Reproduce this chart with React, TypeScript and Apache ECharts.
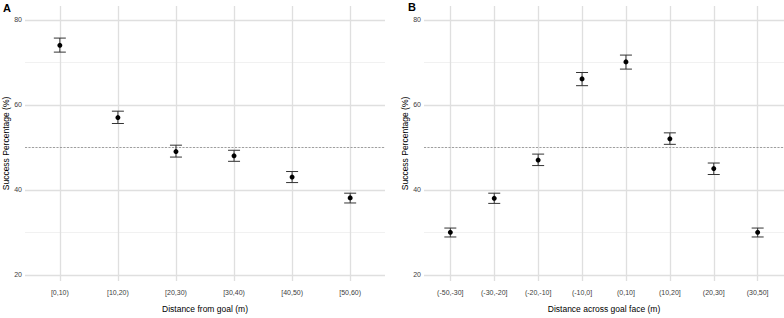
import React, { useEffect, useRef } from "react";
import * as echarts from "echarts";

const catsA = ["[0,10)", "[10,20)", "[20,30)", "[30,40)", "[40,50)", "[50,60)"];
const meanA = [74.0, 57.0, 49.0, 48.0, 43.0, 38.1];
const lowA = [72.4, 55.6, 47.7, 46.7, 41.7, 36.9];
const highA = [75.7, 58.5, 50.5, 49.3, 44.3, 39.2];

const catsB = ["(-50,-30]", "(-30,-20]", "(-20,-10]", "(-10,0]", "(0,10]", "(10,20]", "(20,30]", "(30,50]"];
const meanB = [30.0, 38.0, 47.0, 66.1, 70.1, 52.0, 45.0, 30.0];
const lowB = [28.9, 36.8, 45.7, 64.5, 68.4, 50.7, 43.6, 28.9];
const highB = [31.0, 39.2, 48.4, 67.6, 71.7, 53.4, 46.3, 31.0];

const yMajor = [20, 40, 60, 80];
const yMinor = [30, 50, 70];
const refLine = 50;

const FONT = "Liberation Sans, Arial, Helvetica, sans-serif";

function buildPanel(idx: number, cats: string[], mean: number[], low: number[], high: number[], xName: string) {
  const n = cats.length;
  const xAxis = {
    type: "value",
    gridIndex: idx,
    min: -0.6,
    max: n - 1 + 0.6,
    axisLine: { show: false },
    axisTick: { show: false },
    splitLine: { show: false },
    axisLabel: {
      customValues: cats.map((_, i) => i),
      formatter: (v: number) => cats[Math.round(v)] ?? "",
      fontSize: 7,
      color: "#3d3d3d",
      fontFamily: FONT,
      margin: 8,
    },
    name: xName,
    nameLocation: "middle",
    nameGap: 23,
    nameTextStyle: { fontSize: 8.5, color: "#000", fontFamily: FONT },
  };
  const yAxis = {
    type: "value",
    gridIndex: idx,
    min: 18.54,
    max: 83.25,
    axisLine: { show: false },
    axisTick: { show: false },
    splitLine: { show: false },
    axisLabel: {
      customValues: yMajor,
      fontSize: 7,
      color: "#3d3d3d",
      fontFamily: FONT,
      margin: 3,
    },
    name: "Success Percentage (%)",
    nameLocation: "middle",
    nameGap: 14,
    nameTextStyle: { fontSize: 8.5, color: "#000", fontFamily: FONT },
  };
  const gridLines = {
    type: "line",
    xAxisIndex: idx,
    yAxisIndex: idx,
    data: [],
    z: 0,
    silent: true,
    markLine: {
      z: 0,
      silent: true,
      symbol: ["none", "none"],
      label: { show: false },
      animation: false,
      data: [
        ...yMinor.map((v) => ({ yAxis: v, lineStyle: { color: "#eeeeee", width: 0.8, type: "solid" } })),
        ...yMajor.map((v) => ({ yAxis: v, lineStyle: { color: "#dfdfdf", width: 1.3, type: "solid" } })),
        ...cats.map((_, i) => ({ xAxis: i, lineStyle: { color: "#dfdfdf", width: 1.3, type: "solid" } })),
      ],
    },
  };
  const refSeries = {
    type: "line",
    xAxisIndex: idx,
    yAxisIndex: idx,
    data: [],
    z: 1,
    silent: true,
    markLine: {
      z: 1,
      silent: true,
      symbol: ["none", "none"],
      label: { show: false },
      animation: false,
      data: [{ yAxis: refLine, lineStyle: { color: "#8a8a8a", width: 0.8, type: [2, 1.5] } }],
    },
  };
  const errSeries = {
    type: "custom",
    xAxisIndex: idx,
    yAxisIndex: idx,
    z: 3,
    silent: true,
    encode: { x: 0, y: [1, 2] },
    data: cats.map((_, i) => [i, low[i], high[i]]),
    renderItem: (params: any, api: any) => {
      const x = api.value(0);
      const top = api.coord([x, api.value(2)]);
      const bot = api.coord([x, api.value(1)]);
      const hw = 6;
      const style = { stroke: "#333333", lineWidth: 1 };
      return {
        type: "group",
        children: [
          { type: "line", shape: { x1: top[0], y1: top[1], x2: bot[0], y2: bot[1] }, style },
          { type: "line", shape: { x1: top[0] - hw, y1: top[1], x2: top[0] + hw, y2: top[1] }, style },
          { type: "line", shape: { x1: bot[0] - hw, y1: bot[1], x2: bot[0] + hw, y2: bot[1] }, style },
        ],
      };
    },
  };
  const pts = {
    type: "scatter",
    xAxisIndex: idx,
    yAxisIndex: idx,
    z: 4,
    symbol: "circle",
    symbolSize: 5,
    itemStyle: { color: "#000", opacity: 1 },
    data: cats.map((_, i) => [i, mean[i]]),
  };
  return { xAxis, yAxis, series: [gridLines, refSeries, errSeries, pts] };
}

export default function App() {
  const ref = useRef<HTMLDivElement>(null);
  useEffect(() => {
    if (!ref.current) return;
    const chart = echarts.init(ref.current, undefined, { renderer: "svg" });
    const a = buildPanel(0, catsA, meanA, lowA, highA, "Distance from goal (m)");
    const b = buildPanel(1, catsB, meanB, lowB, highB, "Distance across goal face (m)");
    chart.setOption({
      animation: false,
      backgroundColor: "#fff",
      textStyle: { fontFamily: FONT },
      grid: [
        { left: 25, right: 399, top: 6, bottom: 33 },
        { left: 424, right: 0, top: 6, bottom: 33 },
      ],
      xAxis: [a.xAxis, b.xAxis],
      yAxis: [a.yAxis, b.yAxis],
      series: [...a.series, ...b.series],
      graphic: [
        { type: "text", left: 3, top: 2, style: { text: "A", fontSize: 11, fontWeight: "bold", fill: "#000", fontFamily: FONT } },
        { type: "text", left: 408, top: 1, style: { text: "B", fontSize: 11, fontWeight: "bold", fill: "#000", fontFamily: FONT } },
      ],
    });
    return () => chart.dispose();
  }, []);
  return <div ref={ref} style={{ position: "absolute", left: 0, top: 0, width: 784, height: 318 }} />;
}
